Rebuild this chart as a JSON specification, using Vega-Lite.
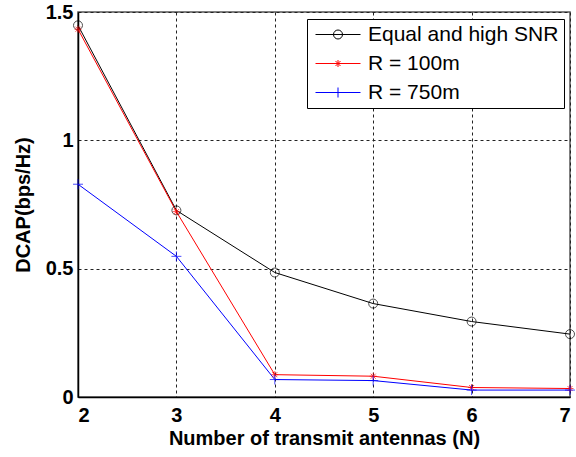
{
  "$schema": "https://vega.github.io/schema/vega-lite/v6.json",
  "width": 492,
  "height": 385,
  "autosize": {"type": "none"},
  "padding": {"left": 78, "top": 12, "right": 6, "bottom": 60},
  "background": "white",
  "config": {
    "font": "Liberation Sans",
    "view": {"stroke": "#555555", "strokeWidth": 1.5},
    "axis": {
      "labelFont": "Liberation Sans",
      "labelFontSize": 20,
      "labelFontWeight": "bold",
      "labelColor": "black",
      "titleFont": "Liberation Sans",
      "titleFontSize": 20,
      "titleFontWeight": "bold",
      "titleColor": "black",
      "domainColor": "black",
      "domainWidth": 1.5,
      "ticks": false,
      "grid": true,
      "gridColor": "#222222",
      "gridDash": [3, 3],
      "gridWidth": 1,
      "gridOpacity": 1
    },
    "legend": {
      "title": null,
      "orient": "none",
      "legendX": 229,
      "legendY": 7,
      "padding": 5,
      "strokeColor": "black",
      "fillColor": "white",
      "cornerRadius": 0,
      "labelFont": "Liberation Sans",
      "labelFontSize": 21,
      "labelColor": "black",
      "labelLimit": 400,
      "labelOffset": 35,
      "rowPadding": 7,
      "symbolSize": 400,
      "symbolOpacity": 1,
      "symbolStrokeWidth": 1
    }
  },
  "data": {
    "values": [
      {"N": 2, "dcap": 1.448, "series": "Equal and high SNR"},
      {"N": 3, "dcap": 0.727, "series": "Equal and high SNR"},
      {"N": 4, "dcap": 0.485, "series": "Equal and high SNR"},
      {"N": 5, "dcap": 0.364, "series": "Equal and high SNR"},
      {"N": 6, "dcap": 0.294, "series": "Equal and high SNR"},
      {"N": 7, "dcap": 0.245, "series": "Equal and high SNR"},
      {"N": 2, "dcap": 1.433, "series": "R = 100m"},
      {"N": 3, "dcap": 0.722, "series": "R = 100m"},
      {"N": 4, "dcap": 0.087, "series": "R = 100m"},
      {"N": 5, "dcap": 0.081, "series": "R = 100m"},
      {"N": 6, "dcap": 0.037, "series": "R = 100m"},
      {"N": 7, "dcap": 0.033, "series": "R = 100m"},
      {"N": 2, "dcap": 0.829, "series": "R = 750m"},
      {"N": 3, "dcap": 0.548, "series": "R = 750m"},
      {"N": 4, "dcap": 0.068, "series": "R = 750m"},
      {"N": 5, "dcap": 0.064, "series": "R = 750m"},
      {"N": 6, "dcap": 0.027, "series": "R = 750m"},
      {"N": 7, "dcap": 0.027, "series": "R = 750m"}
    ]
  },
  "encoding": {
    "x": {
      "field": "N",
      "type": "quantitative",
      "scale": {"domain": [2, 7], "nice": false, "zero": false},
      "axis": {"values": [2, 3, 4, 5, 6, 7], "format": "d", "labelPadding": 8, "titlePadding": 3, "title": "Number of transmit antennas (N)"}
    },
    "y": {
      "field": "dcap",
      "type": "quantitative",
      "scale": {"domain": [0, 1.5], "nice": false},
      "axis": {"values": [0, 0.5, 1, 1.5], "format": "~g", "labelPadding": 5, "titlePadding": 12, "title": "DCAP(bps/Hz)"}
    }
  },
  "layer": [
    {
      "mark": {"type": "line", "strokeWidth": 1},
      "encoding": {
        "color": {
          "field": "series",
          "type": "nominal",
          "legend": null,
          "scale": {
            "domain": ["Equal and high SNR", "R = 100m", "R = 750m"],
            "range": ["#000000", "#ff0000", "#0000ff"]
          }
        }
      }
    },
    {
      "mark": {"type": "point", "filled": false, "size": 400, "strokeWidth": 1},
      "encoding": {
        "color": {
          "field": "series",
          "type": "nominal",
          "legend": null,
          "scale": {
            "domain": ["Equal and high SNR", "R = 100m", "R = 750m"],
            "range": ["#000000", "#ff0000", "#0000ff"]
          }
        },
        "shape": {
          "field": "series",
          "type": "nominal",
          "legend": null,
          "scale": {
            "domain": ["Equal and high SNR", "R = 100m", "R = 750m"],
            "range": [
              "M-0.45,0A0.45,0.45,0,1,1,0.45,0A0.45,0.45,0,1,1,-0.45,0Z",
              "M-0.35,0H0.35M0,-0.35V0.35M-0.25,-0.25L0.25,0.25M-0.25,0.25L0.25,-0.25",
              "M-0.5,0H0.5M0,-0.5V0.5"
            ]
          }
        }
      }
    },
    {
      "mark": {"type": "point", "filled": false, "size": 400, "strokeWidth": 1, "opacity": 0},
      "encoding": {
        "color": {
          "field": "series",
          "type": "nominal",
          "legend": {},
          "scale": {
            "domain": ["Equal and high SNR", "R = 100m", "R = 750m"],
            "range": ["#000000", "#ff0000", "#0000ff"]
          }
        },
        "shape": {
          "field": "series",
          "type": "nominal",
          "legend": {},
          "scale": {
            "domain": ["Equal and high SNR", "R = 100m", "R = 750m"],
            "range": [
              "M-0.7,0H3.8M1.1,0A0.45,0.45,0,1,1,2,0A0.45,0.45,0,1,1,1.1,0",
              "M-0.7,0H3.8M1.55,-0.35V0.35M1.3,-0.25L1.8,0.25M1.3,0.25L1.8,-0.25",
              "M-0.7,0H3.8M1.55,-0.5V0.5"
            ]
          }
        }
      }
    }
  ],
  "resolve": {
    "scale": {"shape": "independent", "color": "independent"},
    "legend": {"shape": "independent", "color": "independent"}
  }
}
